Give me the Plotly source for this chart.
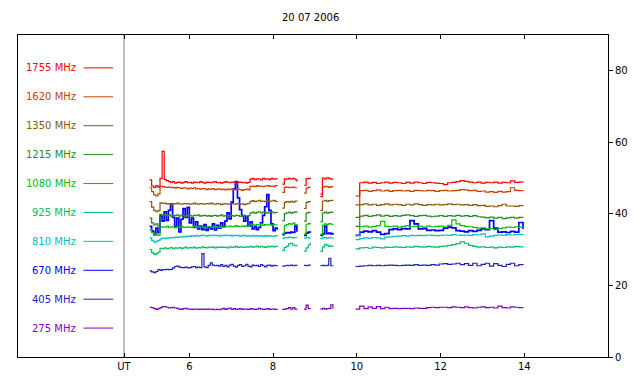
import plotly.graph_objects as go

# ---------------- data ----------------
title_text = "20 07 2006"
labels = ["1755 MHz", "1620 MHz", "1350 MHz", "1215 MHz", "1080 MHz",
          "925 MHz", "810 MHz", "670 MHz", "405 MHz", "275 MHz"]
colors = ["#ff0000", "#c84000", "#8a5a00", "#228b22", "#00c000",
          "#00c060", "#00c0c0", "#0000ff", "#2020c0", "#8000c0"]

# observing segments (start hour UT, sampling step in hours)
seg_starts = [5.05, 8.22, 8.74, 9.13, 9.97]
seg_steps = [0.05, 0.05, 0.05, 0.05, 0.10]

x_tick_vals = [4.44, 6, 8, 10, 12, 14]
x_tick_text = ["UT", "6", "8", "10", "12", "14"]
y_tick_vals = [0, 20, 40, 60, 80]

f1755 = [
    [49.5, 47.8, 47.4, 47.9, 47.5, 49.9, 57.5, 49.6, 49.3, 49.0,
     48.8, 49.0, 48.6, 48.8, 48.9, 48.6, 48.8, 49.0, 48.7, 48.8,
     48.6, 48.9, 48.8, 48.7, 49.0, 48.8, 48.6, 48.9, 48.8, 48.7,
     48.9, 49.0, 48.7, 48.8, 48.6, 48.8, 49.0, 48.8, 48.7, 48.9,
     48.8, 48.6, 48.8, 48.9, 48.7, 48.8, 48.6, 48.8, 49.7, 49.9,
     49.6, 49.8, 49.7, 49.5, 49.9, 49.7, 49.8, 49.6, 49.9, 49.7,
     49.8, 49.7],
    [48.3, 49.8, 49.7, 49.9, 49.8, 49.9, 49.6, 49.0],
    [48.0, 49.8, 49.9, 49.7],
    [44.8, 50.0, 49.8, 50.1, 49.9, 49.7, 49.8],
    [45.0, 48.7, 48.9, 48.6, 48.8, 48.5, 48.7, 48.9, 48.6, 48.8,
     48.7, 48.5, 48.8, 48.6, 48.9, 48.7, 48.5, 48.8, 48.7, 48.6,
     48.5, 48.2, 48.7, 48.8, 49.0, 49.3, 49.1, 48.9, 48.7, 48.9,
     48.6, 48.8, 48.7, 48.9, 48.6, 48.8, 48.7, 49.2, 48.8, 48.9,
     48.8],
]
f1620 = [
    [47.3, 46.2, 45.3, 45.0, 45.6, 47.8, 47.6, 47.5, 47.4, 47.5,
     47.3, 47.4, 47.2, 47.4, 47.3, 47.1, 47.3, 47.2, 47.0, 47.2,
     47.1, 47.3, 47.0, 47.1, 46.9, 47.1, 47.0, 46.8, 47.0, 46.9,
     47.1, 46.8, 46.9, 47.0, 46.8, 46.9, 46.7, 46.9, 46.8, 47.0,
     46.8, 46.7, 46.9, 46.8, 46.6, 46.8, 46.9, 46.7, 47.7, 47.8,
     47.6, 47.9, 47.7, 47.8, 47.6, 47.8, 47.9, 47.7, 47.8, 47.6,
     47.9, 47.8],
    [46.0, 47.4, 47.5, 47.3, 47.4, 47.5, 47.3, 47.4],
    [45.8, 47.2, 47.4, 47.3],
    [45.5, 47.5, 47.7, 47.6, 47.4, 47.6, 47.5],
    [42.5, 46.5, 46.6, 46.3, 46.5, 46.7, 46.4, 46.6, 46.3, 46.5,
     46.6, 46.4, 46.5, 46.3, 46.6, 46.5, 46.4, 46.6, 46.5, 46.3,
     46.5, 46.6, 46.4, 46.5, 46.6, 46.8, 46.7, 46.5, 46.6, 46.3,
     46.4, 46.1, 46.2, 46.0, 46.3, 46.1, 46.2, 47.3, 46.6, 46.5,
     46.3],
]
f1350 = [
    [43.4, 41.9, 41.0, 40.6, 40.9, 43.1, 42.9, 43.0, 42.8, 42.9,
     42.7, 42.9, 42.8, 43.0, 42.8, 42.7, 42.9, 42.8, 42.9, 42.7,
     42.8, 43.0, 42.8, 42.7, 42.9, 42.8, 42.7, 42.9, 42.8, 43.0,
     42.8, 42.7, 42.9, 42.8, 42.6, 42.8, 42.9, 42.7, 42.8, 42.9,
     42.7, 42.8, 42.9, 42.7, 42.8, 42.6, 42.8, 42.9, 43.5, 43.7,
     43.4, 43.6, 43.8, 43.5, 43.6, 43.4, 43.7, 43.5, 43.6, 43.8,
     43.5, 43.6],
    [41.6, 43.2, 43.4, 43.3, 43.5, 43.3, 43.6, 43.4],
    [41.5, 43.2, 43.4, 43.3],
    [41.0, 43.6, 43.8, 43.5, 43.7, 43.8, 43.6],
    [39.0, 42.6, 42.8, 42.5, 42.7, 42.4, 42.6, 42.8, 42.5, 42.7,
     42.6, 42.4, 42.7, 42.5, 42.8, 42.6, 42.4, 42.6, 42.5, 42.7,
     42.5, 42.6, 42.8, 42.6, 42.7, 42.5, 42.6, 42.4, 42.6, 42.3,
     42.4, 42.1, 42.2, 42.0, 42.3, 42.7, 42.2, 42.2, 42.1, 42.3,
     42.2],
]
f1215 = [
    [38.8, 37.5, 36.9, 37.2, 36.6, 39.9, 39.6, 39.8, 39.5, 39.7,
     39.4, 39.6, 39.5, 39.7, 39.4, 39.6, 39.5, 39.3, 39.6, 39.5,
     39.4, 39.6, 39.5, 39.7, 39.4, 39.5, 39.6, 39.4, 39.5, 39.3,
     39.5, 39.6, 39.4, 39.5, 39.7, 39.4, 39.5, 39.3, 39.6, 39.5,
     39.4, 39.6, 39.5, 39.3, 39.5, 39.6, 39.4, 39.5, 40.3, 40.5,
     40.2, 40.4, 40.6, 40.3, 40.5, 40.4, 40.2, 40.5, 40.6, 40.3,
     40.4, 40.5],
    [38.1, 40.1, 40.3, 40.5, 40.2, 40.4, 40.6, 40.3],
    [38.0, 40.2, 40.4, 40.3],
    [37.8, 40.3, 40.5, 40.2, 40.4, 40.5, 40.3],
    [36.5, 39.4, 39.6, 39.3, 39.5, 39.7, 39.4, 39.6, 39.3, 39.5,
     39.4, 39.6, 39.7, 39.5, 39.3, 39.5, 39.6, 39.4, 39.2, 39.4,
     39.5, 39.3, 39.5, 39.4, 39.6, 39.4, 39.5, 39.3, 39.5, 39.2,
     39.1, 38.9, 39.1, 38.8, 39.0, 38.7, 38.9, 39.0, 38.8, 39.0,
     38.9],
]
f1080 = [
    [35.6, 34.8, 34.1, 34.4, 34.0, 36.2, 36.4, 36.3, 36.5, 36.2,
     36.4, 36.3, 36.1, 36.4, 36.3, 36.5, 36.2, 36.3, 36.4, 36.2,
     36.3, 36.5, 36.3, 36.2, 36.4, 36.3, 36.1, 36.3, 36.4, 36.2,
     36.3, 36.5, 36.3, 36.2, 36.4, 36.3, 36.5, 36.4, 36.6, 36.4,
     36.5, 36.7, 36.5, 36.4, 36.6, 36.5, 36.7, 36.6, 36.9, 37.1,
     36.8, 37.0, 36.9, 37.2, 36.8, 37.0, 36.9, 37.1, 36.8, 37.0,
     36.9, 37.0],
    [34.4, 36.8, 37.0, 37.3, 37.1, 37.4, 37.0, 37.2],
    [34.3, 37.1, 37.3, 37.0],
    [34.3, 36.9, 37.2, 37.0, 37.3, 37.1, 36.9],
    [34.0, 36.4, 36.6, 36.3, 36.5, 36.7, 37.9, 36.5, 36.4, 36.6,
     36.3, 36.5, 36.7, 36.4, 36.6, 36.5, 36.3, 36.6, 36.4, 36.5,
     36.6, 36.4, 36.8, 38.3, 37.2, 36.7, 36.5, 36.4, 36.2, 36.0,
     36.1, 35.8, 35.9, 35.6, 35.9, 36.1, 36.3, 36.2, 36.4, 36.3,
     36.5],
]
f925 = [
    [30.0, 29.2, 28.7, 28.9, 29.3, 30.4, 30.3, 30.5, 30.2, 30.4,
     30.6, 30.3, 30.5, 30.4, 30.6, 30.3, 30.5, 30.7, 30.4, 30.6,
     30.5, 30.7, 30.4, 30.6, 30.5, 30.8, 30.6, 30.5, 30.7, 30.6,
     30.8, 30.5, 30.7, 30.6, 30.8, 30.6, 30.7, 30.5, 30.8, 30.6,
     30.7, 30.9, 30.6, 30.8, 30.7, 30.6, 30.8, 30.7, 30.9, 30.7,
     30.8, 31.0, 30.7, 30.9, 30.8, 30.6, 30.9, 30.8, 31.0, 30.8,
     30.9, 31.1],
    [29.8, 30.6, 31.0, 31.6, 31.8, 31.3, 31.1, 31.4],
    [29.6, 30.5, 31.3, 32.0],
    [29.5, 30.8, 31.5, 31.2, 30.9, 31.0, 30.8],
    [30.2, 30.5, 30.6, 30.4, 30.7, 30.6, 30.5, 30.7, 30.6, 30.8,
     30.7, 30.6, 30.8, 30.7, 30.9, 30.8, 30.7, 30.9, 30.8, 30.7,
     30.9, 31.0, 31.2, 31.4, 31.7, 32.2, 31.8, 31.2, 30.9, 30.7,
     30.8, 30.6, 30.7, 30.5, 30.7, 30.6, 30.8, 30.7, 30.9, 30.8,
     30.9],
]
f810 = [
    [33.3, 32.6, 32.1, 32.3, 32.6, 33.0, 33.2, 33.1, 33.3, 33.2,
     33.4, 33.3, 33.5, 33.4, 33.6, 33.5, 33.7, 33.6, 33.8, 33.7,
     33.9, 33.8, 34.0, 33.8, 33.9, 34.1, 33.9, 33.8, 34.0, 33.9,
     34.1, 33.9, 34.0, 33.8, 34.0, 33.9, 34.1, 33.9, 34.0, 33.8,
     34.0, 33.9, 34.0, 33.8, 33.9, 34.0, 33.8, 33.9, 33.8, 34.0,
     33.8, 33.9, 33.8, 33.9, 33.7, 33.9, 33.8, 33.9, 33.8, 33.7,
     33.9, 33.8],
    [33.2, 33.4, 33.3, 33.5, 33.4, 33.3, 33.4, 33.3],
    [33.2, 33.4, 33.3, 33.4],
    [33.1, 33.3, 33.4, 33.2, 33.4, 33.3, 33.4],
    [32.8, 33.1, 33.3, 33.2, 33.4, 33.3, 33.0, 33.5, 33.6, 33.7,
     33.8, 33.9, 33.8, 34.0, 33.9, 34.0, 33.9, 34.1, 34.0, 33.9,
     34.0, 34.1, 34.0, 34.2, 34.1, 34.0, 34.1, 34.0, 34.2, 34.1,
     34.4, 33.6, 33.8, 34.0, 34.1, 34.0, 34.2, 34.1, 34.2, 34.3,
     34.2],
]
f670 = [
    [36.5, 35.2, 34.2, 36.0, 34.8, 39.5, 38.0, 40.6, 38.2, 41.0,
     42.8, 39.0, 36.5, 38.8, 35.0, 38.5, 41.5, 39.0, 41.8, 37.5,
     38.8, 36.2, 37.8, 35.8, 36.6, 35.6, 37.0, 35.4, 36.3, 35.8,
     37.2, 35.5, 36.8, 36.0, 37.5, 36.4, 38.0, 40.3, 38.6, 43.3,
     47.0, 49.0, 44.5, 41.2, 39.5, 38.0, 39.2, 36.6, 37.8, 35.8,
     36.4, 35.6, 36.2, 37.5, 39.6, 42.0, 45.4, 41.0, 37.2, 35.3,
     36.0, 35.6],
    [34.2, 34.6, 34.8, 34.7, 34.9, 34.8, 36.6, 35.0],
    [34.0, 34.6, 34.9, 34.7],
    [34.0, 34.4, 36.6, 34.5, 34.6, 34.4, 34.7],
    [34.0, 34.9, 35.2, 35.0, 35.3, 34.9, 34.3, 34.5, 35.6, 35.8,
     35.6, 35.9, 35.8, 38.1, 37.2, 35.8, 35.9, 35.4, 35.5, 35.3,
     35.4, 36.0, 36.3, 36.1, 35.3, 35.2, 35.0, 35.3, 35.1, 35.4,
     35.8, 35.6, 38.1, 36.0, 34.9, 35.0, 34.8, 35.1, 34.9, 37.6,
     35.8],
]
f405 = [
    [24.1, 23.8, 23.6, 23.9, 24.4, 24.2, 24.4, 24.4, 24.5, 24.4,
     24.5, 24.9, 25.3, 25.4, 25.1, 25.0, 25.0, 25.1, 24.9, 25.0,
     25.2, 25.3, 25.0, 25.1, 25.0, 28.9, 25.2, 25.0, 25.6, 26.3,
     25.7, 25.5, 25.6, 25.4, 25.8, 25.3, 25.6, 25.2, 25.7, 25.9,
     25.4, 25.1, 25.6, 25.8, 25.3, 25.5, 25.9, 25.4, 25.2, 25.7,
     25.5, 25.6, 25.3, 25.8, 25.5, 25.2, 25.6, 25.7, 25.4, 25.6,
     25.5, 25.7],
    [25.4, 25.5, 25.6, 25.5, 25.7, 25.5, 25.6, 25.5],
    [25.6, 25.5, 25.7, 25.6],
    [25.5, 25.6, 25.5, 25.6, 27.6, 25.5, 25.6],
    [25.3, 25.4, 25.5, 25.6, 25.5, 25.6, 25.5, 25.6, 25.7, 25.6,
     25.5, 25.6, 25.7, 25.6, 25.8, 25.6, 25.7, 25.6, 25.8, 25.7,
     26.0, 26.1, 25.9, 26.0, 26.2, 25.8, 26.1, 25.6, 26.2, 25.5,
     25.9, 26.2, 25.4, 26.1, 25.6, 25.3, 25.9, 26.2, 25.5, 25.8,
     25.7],
]
f275 = [
    [13.9, 13.8, 13.5, 13.3, 13.5, 13.8, 14.1, 14.1, 13.9, 13.7,
     13.8, 13.9, 13.7, 13.6, 13.4, 13.3, 13.5, 13.6, 13.4, 13.4,
     13.3, 13.4, 13.4, 13.3, 13.4, 13.3, 13.4, 13.3, 13.4, 13.4,
     13.3, 13.2, 13.3, 13.2, 13.4, 13.6, 13.3, 13.5, 13.7, 13.3,
     13.5, 13.3, 13.4, 13.5, 13.3, 13.4, 13.4, 13.3, 13.5, 13.4,
     13.3, 13.4, 13.6, 13.4, 13.3, 13.4, 13.5, 13.3, 13.4, 13.4,
     13.3, 13.4],
    [13.3, 13.4, 13.5, 13.8, 13.4, 13.8, 13.4, 13.5],
    [13.4, 14.5, 13.5, 13.6],
    [13.4, 13.6, 13.4, 13.5, 13.6, 14.6, 13.5],
    [13.4, 14.2, 13.5, 14.0, 13.6, 14.1, 13.5, 13.9, 13.5, 13.6,
     13.5, 13.6, 13.6, 13.5, 13.7, 13.6, 13.6, 13.8, 13.9, 13.8,
     13.9, 13.9, 13.8, 14.0, 13.9, 13.8, 14.0, 13.8, 13.7, 13.9,
     14.0, 13.8, 13.9, 13.7, 14.2, 13.8, 13.7, 14.0, 13.9, 13.8,
     13.9],
]

series = [f1755, f1620, f1350, f1215, f1080, f925, f810, f670, f405, f275]

# ---------------- figure ----------------
W, H = 640, 384
ML, MR, MT, MB = 18, 27, 35, 25
X_RANGE = [1.908, 16.0]
Y_RANGE = [0, 90]
FONT = "DejaVu Sans"

fig = go.Figure()


def build_xy(segments):
    xs, ys = [], []
    for k, vals in enumerate(segments):
        if k > 0:
            xs.append(None)
            ys.append(None)
        for i, v in enumerate(vals):
            xs.append(round(seg_starts[k] + seg_steps[k] * i, 4))
            ys.append(v)
    return xs, ys


# draw lowest frequency first so higher ones sit on top
for idx in reversed(range(len(series))):
    xs, ys = build_xy(series[idx])
    fig.add_trace(go.Scatter(
        x=xs, y=ys, mode="lines", line_shape="hv",
        line=dict(color=colors[idx], width=1.7 if labels[idx] == "670 MHz" else 1.2),
        connectgaps=False, hoverinfo="skip", showlegend=False))

# legend panel (left of the UT separator)
plot_w = W - ML - MR
text_right = (79 - ML) / plot_w
line_x0 = (84 - ML) / plot_w
line_x1 = (114 - ML) / plot_w
shapes = []
annotations = []
for i, (lab, col) in enumerate(zip(labels, colors)):
    yl = 80.8 - 8.08 * i
    annotations.append(dict(x=text_right, y=yl, xref="paper", yref="y",
                            text=lab, showarrow=False, xanchor="right",
                            yanchor="middle", font=dict(family=FONT, size=10, color=col)))
    shapes.append(dict(type="line", xref="paper", yref="y", x0=line_x0, x1=line_x1,
                       y0=yl, y1=yl, line=dict(color=col, width=1)))

# UT separator line
shapes.append(dict(type="line", xref="x", yref="paper", x0=4.44, x1=4.44, y0=0, y1=1,
                   line=dict(color="#808080", width=1), layer="below"))

annotations.append(dict(x=(313.3 - ML) / plot_w, y=1 + (MT - 17) / (H - MT - MB),
                        xref="paper", yref="paper", text=title_text, showarrow=False,
                        xanchor="center", yanchor="middle",
                        font=dict(family=FONT, size=10, color="#000000")))

fig.update_layout(
    width=W, height=H,
    margin=dict(l=ML, r=MR, t=MT, b=MB, pad=0),
    paper_bgcolor="white", plot_bgcolor="white",
    font=dict(family=FONT, size=10, color="#000000"),
    showlegend=False, hovermode=False,
    shapes=shapes, annotations=annotations,
    xaxis=dict(range=X_RANGE, tickvals=x_tick_vals, ticktext=x_tick_text,
               ticks="inside", ticklen=4, tickcolor="#000000", tickwidth=1,
               showline=True, linecolor="#000000", linewidth=1, mirror="ticks",
               showgrid=False, zeroline=False, fixedrange=True,
               tickfont=dict(family=FONT, size=10, color="#000000")),
    yaxis=dict(range=Y_RANGE, tickvals=y_tick_vals, side="right",
               ticks="outside", ticklen=4, tickcolor="#000000", tickwidth=1,
               showline=True, linecolor="#000000", linewidth=1, mirror=True,
               showgrid=False, zeroline=False, fixedrange=True,
               tickfont=dict(family=FONT, size=10, color="#000000")),
)

fig.write_html("out.html", config={"displayModeBar": False},
               post_script="document.body.style.margin='0';document.body.style.overflow='hidden';")
